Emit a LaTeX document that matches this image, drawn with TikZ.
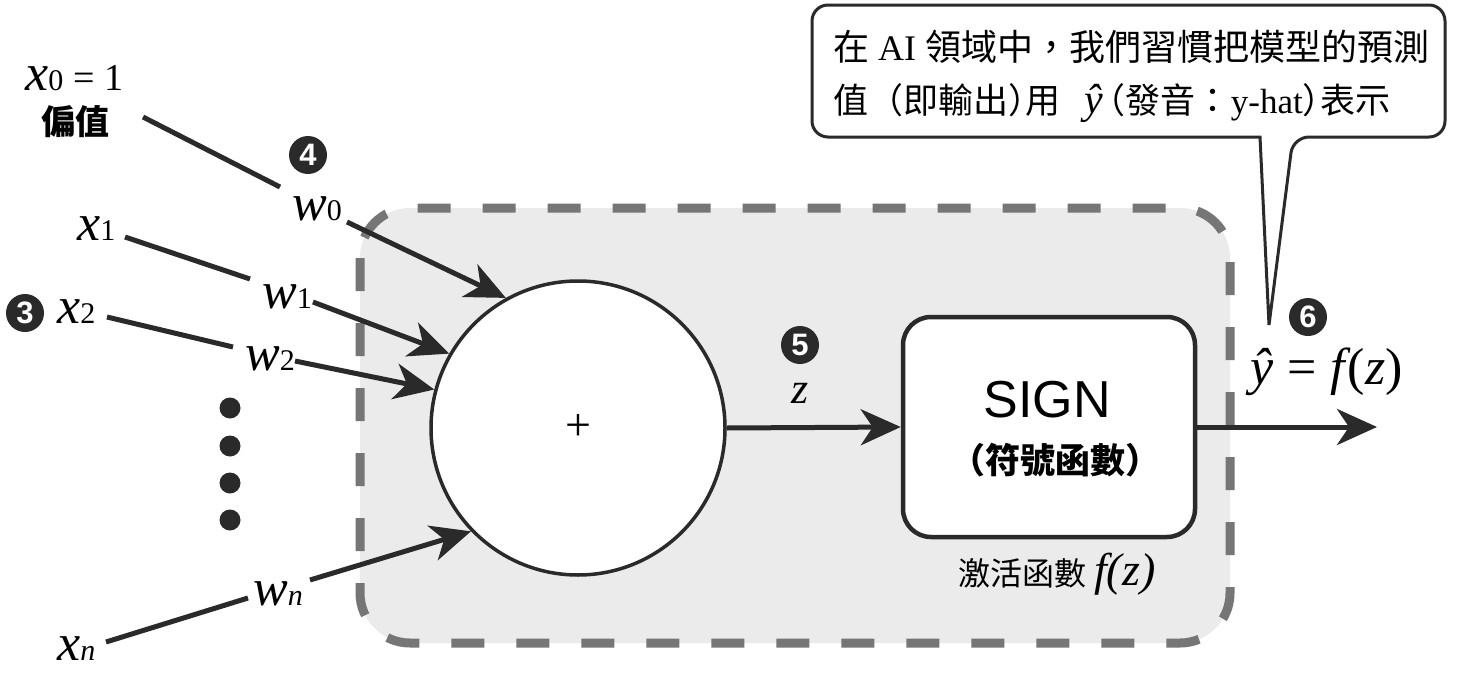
\documentclass[tikz,border=0pt]{standalone}
\usepackage{fontspec}
\setmainfont{Liberation Serif}
\newfontfamily\cjk{Noto Sans CJK TC}
\newfontfamily\cjkh[RawFeature=+halt]{Noto Sans CJK TC}
\newfontfamily\sansf{Liberation Sans}
\usetikzlibrary{arrows.meta}
\definecolor{ink}{HTML}{2A2A2A}
\definecolor{dashgray}{HTML}{767676}
\definecolor{panel}{HTML}{EBEBEB}
\newcommand{\fs}[1]{\fontsize{#1}{#1}\selectfont}
\newcommand{\var}[2]{{\fs{52}\itshape #1}{\fs{30}#2}}
\begin{document}
\begin{tikzpicture}[x=1pt,y=-1pt,
  lbl/.style={inner sep=0pt, anchor=base west},
  num/.style={circle, fill=ink, text=white, inner sep=0pt, minimum size=38pt, font=\sansf\bfseries\fs{31}},
  arr/.style={line width=5pt, draw=ink, -{Stealth[length=40pt,width=36pt,inset=12pt]}},
  wire/.style={line width=5pt, draw=ink},
  bigdot/.style={circle, fill=ink, inner sep=0pt, minimum size=21pt},
  panelbox/.style={line width=9pt, draw=dashgray, fill=panel, dash pattern=on 33pt off 32pt, rounded corners=50pt}]
\useasboundingbox (0,0) rectangle (1457,680);
\fill[white] (0,0) rectangle (1457,680);
% panel
\draw[panelbox] (360,208) rectangle (1230,643);
% callout
\draw[line width=3pt, draw=ink, fill=white, rounded corners=16pt]
  (1000,137) -- (812,137) -- (812,5) -- (1445,5) -- (1445,137) -- (1293,137)
  [sharp corners] -- (1269,325) -- (1260,137) -- cycle;
\node[lbl] (c1) at (833,60) {\fs{36}{\cjk 在} AI {\cjk 領域中，我們習慣把模型的預測}};
\node[lbl] (c2) at (833,113) {\fs{35}{\cjk 值（}{\cjk 即輸出}{\cjkh ）}{\cjk 用}\hspace{24pt}{\fs{42}\itshape ŷ}\kern5pt{\cjkh （}{\cjk 發音：}y-hat{\cjkh ）}{\cjk 表示}};
% summation circle
\node[circle, draw=ink, fill=white, line width=3.5pt, minimum size=294pt, inner sep=0pt, font=\fs{46}] (sum) at (578,428) {+};
% sign box
\node[draw=ink, fill=white, line width=4.5pt, rounded corners=28pt, minimum width=292pt, minimum height=220pt] (sign) at (1049,427) {};
\node[font=\sansf\fs{52}, inner sep=0pt] (signtxt) at (1047,400) {SIGN};
\node[font=\cjk\bfseries\fs{35}, inner sep=0pt] (signsub) at (1055,460) {（符號函數）};
\node[lbl] (act) at (958,585) {{\cjk\fs{32}激活函數}\hspace{8pt}{\fs{46}\itshape f(z)}};
% inputs
\node[lbl] (x0) at (25,90) {\var{x}{0}\hspace{10pt}{\fs{38}=\hspace{10pt}1}};
\node[font=\cjk\bfseries\fs{34}, inner sep=0pt] (bias) at (75,122) {偏值};
\node[num] (n4) at (308,155) {4};
\node[lbl] (w0) at (292,220) {\var{w}{0}};
\node[lbl] (x1) at (77,240) {\var{x}{1}};
\node[lbl] (w1) at (262,308) {\var{w}{1}};
\node[num] (n3) at (25,313) {3};
\node[lbl] (x2) at (57,323) {\var{x}{2}};
\node[lbl] (w2) at (245,370) {\var{w}{2}};
\node[lbl] (wn) at (253,605) {\var{w}{\itshape n}};
\node[lbl] (xn) at (57,660) {\var{x}{\itshape n}};
\node[bigdot] (d1) at (230,408) {};
\node[bigdot] (d2) at (230,446) {};
\node[bigdot] (d3) at (230,483) {};
\node[bigdot] (d4) at (230,520) {};
% wires
\coordinate (l0a) at (143,117); \coordinate (l0b) at (280,187);
\coordinate (l1a) at (125,237); \coordinate (l1b) at (250,279);
\coordinate (l2a) at (107,317); \coordinate (l2b) at (233,347);
\coordinate (lna) at (106,642); \coordinate (lnb) at (248,598);
\coordinate (a0) at (347,222);
\coordinate (a1) at (313,302);
\coordinate (a2) at (295,361);
\coordinate (an) at (310,580);
\draw[wire] (l0a) -- (l0b);
\draw[wire] (l1a) -- (l1b);
\draw[wire] (l2a) -- (l2b);
\draw[wire] (lna) -- (lnb);
\draw[arr] (a0) -- (sum.119);
\draw[arr] (a1) -- (sum.150);
\draw[arr] (a2) -- (sum.165);
\draw[arr] (an) -- (sum.224);
% z
\node[num] (n5) at (800,345) {5};
\node[inner sep=0pt, anchor=base] (zl) at (800,403) {\fs{44}\itshape z};
\draw[arr] (sum.east) -- (sign.west);
% output
\node[num] (n6) at (1308,317) {6};
\node[lbl] (yhat) at (1250,384) {\fs{52}{\itshape ŷ}\hspace{14pt}=\hspace{14pt}{\itshape f}\kern2pt(\kern1pt{\itshape z})};
\coordinate (yend) at (1377,427);
\draw[arr] (sign.east) -- (yend);
\end{tikzpicture}
\end{document}
